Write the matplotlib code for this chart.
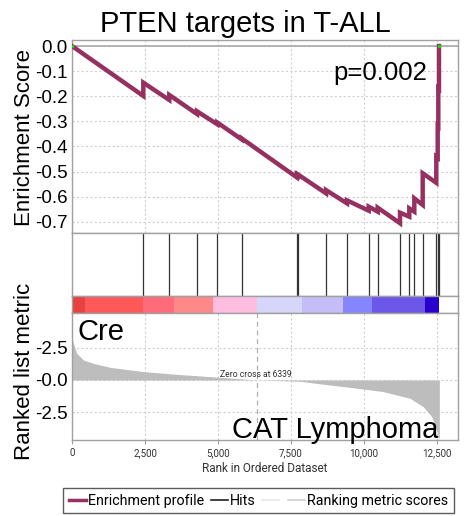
import matplotlib
matplotlib.use("Agg")
import matplotlib.pyplot as plt
from matplotlib.lines import Line2D

# ---------------- data ----------------
title = "PTEN targets in T-ALL"
es_rank = [0, 2442, 2442, 3332, 3332, 4281, 4281, 4977, 4977, 5811, 5811,
           7695, 7695, 7729, 7729, 8699, 8699, 9418, 9418, 10161, 10161,
           10469, 10469, 11233, 11233, 11551, 11551, 11723, 11723, 12010, 12010,
           12476, 12476, 12524, 12524, 12545, 12545, 12568, 12568]
es_value = [0.0, -0.199, -0.146, -0.215, -0.195, -0.271, -0.260, -0.312, -0.305, -0.372, -0.368,
            -0.523, -0.513, -0.516, -0.511, -0.587, -0.574, -0.627, -0.615, -0.656, -0.640,
            -0.660, -0.644, -0.706, -0.664, -0.680, -0.647, -0.660, -0.607, -0.633, -0.507,
            -0.545, -0.441, -0.445, -0.318, -0.320, -0.169, -0.171, 0.0]
hit_ranks = [2442, 3332, 4281, 4977, 5811, 7695, 7729, 8699, 9418, 10161, 10469,
             11233, 11551, 11723, 12010, 12476, 12524, 12568]
metric_rank = [0, 160, 390, 730, 1300, 2440, 3580, 4730, 6339, 7810, 8500, 9520,
               10660, 11575, 12030, 12320, 12490, 12580]
metric_value = [3.2, 2.07, 1.55, 1.29, 0.98, 0.65, 0.44, 0.26, 0.0, -0.1, -0.3, -0.57,
                -0.9, -1.42, -2.07, -2.84, -3.9, -4.6]
bar_edges = [0, 445, 2442, 3493, 4840, 6324, 7865, 9292, 10262, 12089, 12580]
bar_colors = ['#e8413f', '#ff5858', '#ff6b78', '#ff8888', '#ffbde0',
              '#d6d6fa', '#c4bdf7', '#8585ff', '#6b58e8', '#2a00cc']
x_ticks = [0, 2500, 5000, 7500, 10000, 12500]
x_ticklabels = ["0", "2,500", "5,000", "7,500", "10,000", "12,500"]
es_ticks = [0.0, -0.1, -0.2, -0.3, -0.4, -0.5, -0.6, -0.7]
es_ticklabels = ["0.0", "-0.1", "-0.2", "-0.3", "-0.4", "-0.5", "-0.6", "-0.7"]
metric_ticks = [2.5, 0.0, -2.5]
metric_ticklabels = ["-2.5", "-0.0", "-2.5"]
zero_cross = 6339
p_text = "p=0.002"

# ---------------- figure ----------------
W, H = 465, 516
fig = plt.figure(figsize=(W / 100, H / 100), dpi=100)
MAIN = "Liberation Sans"
SMALL = "Roboto"
spine_c = "#a0a0a0"
grid_kw = dict(color="#d0d0d0", linestyle=(0, (2, 2)), linewidth=0.8)

def fx(px):
    return px / W

def fy(py):
    return 1 - py / H

left, right = 72, 458
xlim = (0, (right - left) / 73 * 2500)

ax1 = fig.add_axes([fx(left), fy(233), fx(right - left), (233 - 40) / H])
ax2 = fig.add_axes([fx(left), fy(296), fx(right - left), (296 - 233) / H])
ax3 = fig.add_axes([fx(left), fy(313), fx(right - left), (313 - 296) / H])
ax4 = fig.add_axes([fx(left), fy(440), fx(right - left), (440 - 313) / H])

for ax in (ax1, ax2, ax3, ax4):
    ax.set_xlim(*xlim)
    for s in ax.spines.values():
        s.set_color(spine_c)
        s.set_linewidth(1.0)

# top: enrichment profile
ax1.set_ylim(-0.745, 0.024)
ax1.set_xticks(x_ticks)
ax1.set_xticklabels([])
ax1.set_yticks(es_ticks)
ax1.set_yticklabels(es_ticklabels, fontfamily=MAIN, fontsize=13.5)
ax1.tick_params(length=0, pad=3)
ax1.grid(True, **grid_kw)
ax1.set_axisbelow(True)
ax1.axhline(0, color="#a8a8a8", linewidth=1.2, zorder=1)
ax1.plot(es_rank, es_value, color="#963060", linewidth=3.2, solid_joinstyle="miter", zorder=3)
ax1.plot([es_rank[0], es_rank[-1]], [es_value[0], es_value[-1]], linestyle="none",
         marker="s", markersize=2, color="#22cc22", zorder=4)
ax1.text(427 / W, fy(80), p_text, transform=fig.transFigure, ha="right", va="baseline",
         fontfamily=MAIN, fontsize=18.5)

# hits
ax2.set_ylim(0, 1)
ax2.set_xticks([])
ax2.set_yticks([])
ax2.vlines(hit_ranks, 0, 1, color="#333333", linewidth=0.9)

# colour bar
ax3.set_ylim(0, 1)
ax3.set_xticks([])
ax3.set_yticks([])
for i, c in enumerate(bar_colors):
    ax3.axvspan(bar_edges[i], bar_edges[i + 1], color=c, linewidth=0)

# bottom: ranked metric
ax4.set_ylim(-4.65, 5.19)
ax4.set_xticks(x_ticks)
ax4.set_xticklabels(x_ticklabels, fontfamily=SMALL, fontsize=7, color="#333333")
ax4.set_yticks(metric_ticks)
ax4.set_yticklabels(metric_ticklabels, fontfamily=MAIN, fontsize=13.5)
ax4.tick_params(axis="y", length=0, pad=3)
ax4.tick_params(axis="x", length=3, color=spine_c, pad=3)
ax4.grid(True, **grid_kw)
ax4.set_axisbelow(True)
ax4.fill_between(metric_rank, metric_value, 0, color="#bdbdbd", linewidth=0, zorder=2)
ax4.axvline(zero_cross, color="#b0b0b0", linestyle=(0, (4, 3)), linewidth=0.9, zorder=1)
ax4.text(zero_cross - 1270, 0.05, f"Zero cross at {zero_cross}", fontfamily=SMALL,
         fontsize=6.2, color="#333333", ha="left", va="bottom", zorder=3)
ax4.set_xlabel("Rank in Ordered Dataset", fontfamily=SMALL, fontsize=8.5, color="#333333",
               labelpad=3)
fig.text(77 / W, fy(340), "Cre", fontfamily=MAIN, fontsize=21, ha="left", va="baseline")
fig.text(438 / W, fy(438), "CAT Lymphoma", fontfamily=MAIN, fontsize=21, ha="right",
         va="baseline", zorder=5)

# axis titles
fig.text(fx(25), fy(138), "Enrichment Score", rotation=90, ha="center", va="center",
         fontfamily=MAIN, fontsize=16)
fig.text(fx(25), fy(371), "Ranked list metric", rotation=90, ha="center", va="center",
         fontfamily=MAIN, fontsize=16)
fig.text(fx(245), fy(32), title, ha="center", va="baseline", fontfamily=MAIN, fontsize=21)

# legend
handles = [Line2D([], [], color="#963060", linewidth=2.5),
           Line2D([], [], color="#222222", linewidth=1.2),
           Line2D([], [], color="#e8e8e8", linewidth=1.2),
           Line2D([], [], color="#cfcfcf", linewidth=1.2)]
labels = ["Enrichment profile", "Hits", "", "Ranking metric scores"]
leg = fig.legend(handles, labels, loc="upper left", bbox_to_anchor=(fx(63), fy(488)),
                 ncol=4, frameon=True, fancybox=False, edgecolor="#333333",
                 handlelength=1.2, handletextpad=0.15, columnspacing=0.45,
                 borderpad=0.4, borderaxespad=0.0, prop={"family": SMALL, "size": 10.3})
leg.get_frame().set_linewidth(1.0)

fig.savefig("out.png", dpi=100)
